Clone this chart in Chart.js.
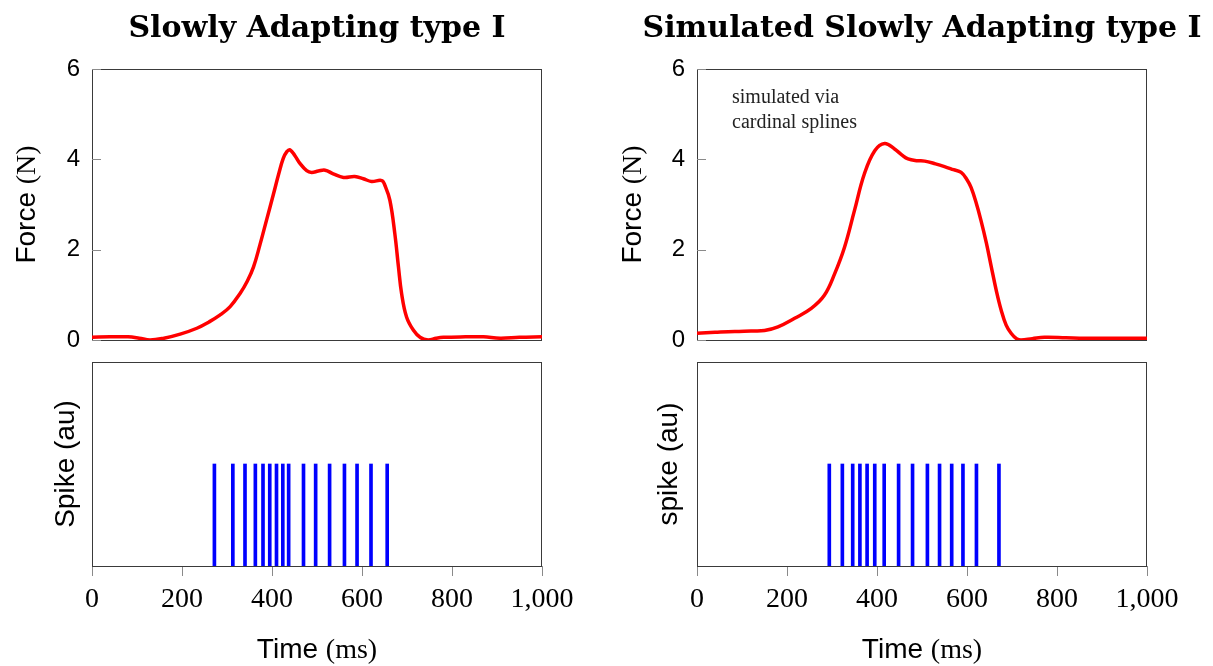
<!DOCTYPE html>
<html><head><meta charset="utf-8">
<script src="https://cdn.jsdelivr.net/npm/chart.js@4.4.0/dist/chart.umd.min.js"></script>
<style>
html,body{margin:0;padding:0;background:#fff;}
#wrap{position:relative;width:1213px;height:666px;overflow:hidden;background:#fff;}
canvas{position:absolute;left:0;top:0;}
</style></head><body>
<div id="wrap">
<canvas id="c1" width="1213" height="666"></canvas>
<canvas id="c2" width="1213" height="666"></canvas>
<canvas id="c3" width="1213" height="666"></canvas>
<canvas id="c4" width="1213" height="666"></canvas>
</div>
<script>
// ---------- data ----------
const timeSA  = [0,40,80,105,129,160,196,233,260,284,307,329,345,359,373,388,403,415,425,433,440,451,462,477,488,503,518,536,559,584,603,621,644,651,662,673,681,688,699,714,729,747,765,781,830,870,907,950,1000];
const forceSA = [0.06,0.07,0.07,0.04,0.0,0.04,0.13,0.26,0.40,0.55,0.74,1.03,1.30,1.62,2.10,2.66,3.22,3.68,4.02,4.17,4.21,4.08,3.91,3.75,3.71,3.74,3.76,3.68,3.60,3.62,3.57,3.51,3.53,3.42,3.09,2.35,1.62,1.03,0.51,0.22,0.06,0.0,0.04,0.06,0.07,0.07,0.04,0.06,0.07];

const timeSim  = [0,40,84,120,150,180,217,254,283,306,328,350,372,395,417,439,455,469,490,506,530,550,570,587,600,609,620,631,643,654,665,676,687,698,710,720,745,772,820,861,930,1000];
const forceSim = [0.15,0.17,0.19,0.20,0.21,0.29,0.48,0.70,0.99,1.47,2.06,2.87,3.68,4.19,4.35,4.23,4.10,4.01,3.97,3.96,3.90,3.84,3.77,3.71,3.55,3.38,3.05,2.65,2.15,1.62,1.10,0.66,0.33,0.15,0.03,0.0,0.03,0.06,0.05,0.04,0.04,0.04];

const spikesSA  = [272,313,340,363,380,395,410,424,437,470,497,528,561,589,620,656];
const spikesSim = [294,323,346,362,378,395,416,448,479,512,539,566,591,621,671];
const spikeHeight = 0.5;

const forceTicks = [0,2,4,6];
const timeTicks  = [0,200,400,600,800,1000];

const titles = ['Slowly Adapting type I', 'Simulated Slowly Adapting type I'];
const annotationLines = ['simulated via', 'cardinal splines'];

// ---------- helpers ----------
const W = 1213, H = 666;
const SANS = '"Liberation Sans", Arial, sans-serif';
const SERIF = '"Liberation Serif", "Times New Roman", serif';

function drawMixed(ctx, parts, cx, cy, rotate) {
  ctx.save();
  ctx.translate(cx, cy);
  if (rotate) ctx.rotate(-Math.PI / 2);
  let total = 0;
  parts.forEach(p => { ctx.font = p.f; p.w = ctx.measureText(p.t).width; total += p.w; });
  let x = -total / 2;
  ctx.fillStyle = '#000';
  ctx.textBaseline = 'alphabetic';
  ctx.textAlign = 'left';
  parts.forEach(p => { ctx.font = p.f; ctx.fillText(p.t, x, 0); x += p.w; });
  ctx.restore();
}

function decoPlugin(cfg) {
  return {
    id: 'deco',
    beforeDatasetsDraw(chart) {
      const ctx = chart.ctx, a = chart.chartArea;
      ctx.save();
      ctx.strokeStyle = '#3a3a3a';
      ctx.lineWidth = 1;
      ctx.strokeRect(a.left + 0.5, a.top + 0.5, a.right - a.left - 1, a.bottom - a.top);
      if (cfg.inTicks) {
        const ys = chart.scales.y;
        ctx.strokeStyle = '#8a8a8a';
        ctx.beginPath();
        cfg.inTicks.forEach(v => {
          const py = Math.round(ys.getPixelForValue(v)) + 0.5;
          ctx.moveTo(a.left, py); ctx.lineTo(a.left + 9, py);
        });
        ctx.stroke();
      }
      ctx.restore();
    },
    afterDraw(chart) {
      const ctx = chart.ctx, a = chart.chartArea;
      const cxm = (a.left + a.right) / 2;
      if (cfg.title) {
        ctx.save();
        ctx.font = 'bold 30px "DejaVu Serif", serif';
        ctx.fillStyle = '#000';
        ctx.textAlign = 'center';
        ctx.textBaseline = 'alphabetic';
        ctx.fillText(cfg.title, cxm, 37);
        ctx.restore();
      }
      if (cfg.ytitle) drawMixed(ctx, cfg.ytitle, cfg.ytitleX, (a.top + a.bottom) / 2, true);
      if (cfg.xtitle) drawMixed(ctx, cfg.xtitle, cxm, 658, false);
      if (cfg.note) {
        ctx.save();
        ctx.font = '20px ' + SERIF;
        ctx.fillStyle = '#222';
        ctx.textAlign = 'left';
        ctx.textBaseline = 'alphabetic';
        cfg.note.forEach((t, i) => ctx.fillText(t, a.left + 35, a.top + 34 + i * 25));
        ctx.restore();
      }
    }
  };
}

function forceChart(id, times, vals, box, cfg) {
  new Chart(document.getElementById(id), {
    type: 'line',
    data: { datasets: [{
      data: times.map((t, i) => ({ x: t, y: vals[i] })),
      borderColor: '#ff0000', borderWidth: 3.5, pointRadius: 0, tension: 0.4, fill: false
    }]},
    options: {
      responsive: false, animation: false, devicePixelRatio: 1,
      layout: { padding: { left: 0, top: box.top, right: W - box.right, bottom: H - box.bottom } },
      plugins: { legend: { display: false }, tooltip: { enabled: false }, title: { display: false } },
      scales: {
        x: { type: 'linear', min: 0, max: 1000, display: false },
        y: {
          type: 'linear', min: 0, max: 6,
          afterBuildTicks: s => { s.ticks = forceTicks.map(v => ({ value: v })); },
          afterFit: s => { s.width = box.left; },
          ticks: { color: '#000', font: { family: SANS, size: 24 }, padding: 12 },
          grid: { display: false, drawTicks: false },
          border: { display: false }
        }
      }
    },
    plugins: [decoPlugin(Object.assign({ inTicks: forceTicks }, cfg))]
  });
}

function spikeChart(id, spikes, box, cfg) {
  new Chart(document.getElementById(id), {
    type: 'bar',
    data: { datasets: [{
      data: spikes.map(t => ({ x: t, y: spikeHeight })),
      backgroundColor: '#0000ff', borderWidth: 0, barThickness: 3, grouped: false
    }]},
    options: {
      responsive: false, animation: false, devicePixelRatio: 1,
      layout: { padding: { left: box.left, top: box.top, right: W - box.right, bottom: 0 } },
      plugins: { legend: { display: false }, tooltip: { enabled: false }, title: { display: false } },
      scales: {
        x: {
          type: 'linear', min: 0, max: 1000, offset: false,
          afterBuildTicks: s => { s.ticks = timeTicks.map(v => ({ value: v })); },
          afterFit: s => { s.height = H - box.bottom; },
          ticks: { color: '#000', font: { family: SERIF, size: 28 }, padding: 7, maxRotation: 0, autoSkip: false },
          grid: { display: true, offset: false, drawOnChartArea: false, drawTicks: true, tickLength: 10, color: '#8a8a8a' },
          border: { display: false }
        },
        y: { type: 'linear', min: 0, max: 1, display: false }
      }
    },
    plugins: [decoPlugin(cfg)]
  });
}

const F28s = '28px ' + SANS, F28r = '28px ' + SERIF;

forceChart('c1', timeSA, forceSA, { left: 92, top: 69, right: 542, bottom: 340 }, {
  title: titles[0],
  ytitle: [{ t: 'Force ', f: F28s }, { t: '(N)', f: F28r }], ytitleX: 35
});
forceChart('c2', timeSim, forceSim, { left: 697, top: 69, right: 1147, bottom: 340 }, {
  title: titles[1],
  ytitle: [{ t: 'Force ', f: F28s }, { t: '(N)', f: F28r }], ytitleX: 641,
  note: annotationLines
});
spikeChart('c3', spikesSA, { left: 92, top: 362, right: 542, bottom: 566 }, {
  ytitle: [{ t: 'Spike (au)', f: F28s }], ytitleX: 74,
  xtitle: [{ t: 'Time ', f: F28s }, { t: '(ms)', f: F28r }]
});
spikeChart('c4', spikesSim, { left: 697, top: 362, right: 1147, bottom: 566 }, {
  ytitle: [{ t: 'spike (au)', f: F28s }], ytitleX: 677,
  xtitle: [{ t: 'Time ', f: F28s }, { t: '(ms)', f: F28r }]
});
</script>
</body></html>
